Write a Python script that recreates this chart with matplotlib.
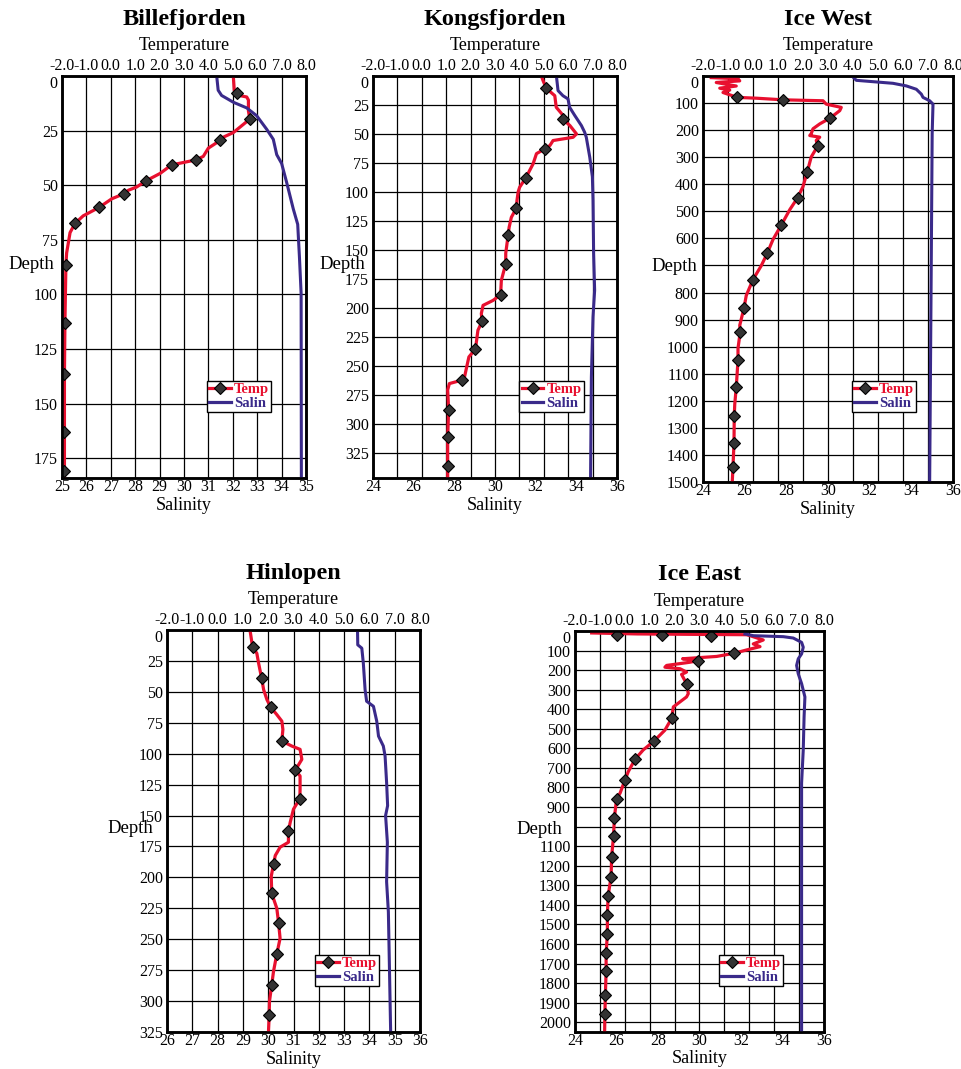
import matplotlib
matplotlib.use("Agg")
import matplotlib.pyplot as plt
from matplotlib.lines import Line2D
import numpy as np

# ----------------------------
# Data
# ----------------------------
temp_ticks = [-2, -1, 0, 1, 2, 3, 4, 5, 6, 7, 8]

# Billefjorden
bf_t_depth = [0, 6.5, 7.6, 9.0, 9.6, 11, 16, 19.7, 25.9, 28, 29.5, 33, 36.8, 38.4, 39.9, 40.7,
              44.6, 48, 50.8, 52.3, 53.9, 56.2, 60.1, 64, 67.5, 71.7, 81, 86.5, 113, 136.5, 163, 184]
bf_temp = [5.02, 5.06, 5.16, 5.30, 5.57, 5.64, 5.64, 5.70, 5.02, 4.61, 4.48, 4.00, 3.79, 3.49, 2.84, 2.49,
           2.02, 1.44, 1.06, 0.72, 0.54, 0.04, -0.47, -1.13, -1.47, -1.67, -1.81, -1.84, -1.88, -1.90, -1.90, -1.90]
bf_m_depth = [7.6, 19.7, 29.5, 38.4, 40.7, 48, 53.9, 60.1, 67.5, 86.5, 113, 136.5, 163, 180.6]
bf_m_temp = [5.16, 5.70, 4.48, 3.49, 2.49, 1.44, 0.54, -0.47, -1.47, -1.84, -1.88, -1.90, -1.90, -1.90]
bf_s_depth = [0, 6.5, 8.9, 12, 14.6, 18.2, 24.4, 29, 36, 40, 48.4, 60.9, 67.9, 82.6, 99.5, 184]
bf_sal = [31.34, 31.40, 31.54, 32.02, 32.57, 32.98, 33.39, 33.66, 33.80, 34.00, 34.20, 34.48, 34.66, 34.73, 34.80, 34.81]

# Kongsfjorden
kf_t_depth = [0, 4, 10.6, 17, 27, 34, 37, 42.8, 50, 52.9, 54.3, 55.7, 60, 63, 67, 75.9, 88, 96, 100, 107.5,
              113.8, 122, 130.5, 137, 153, 162, 176.4, 188.8, 193.7, 198, 205, 211.8, 219.5, 235.6, 242.5,
              259.8, 262.6, 265.5, 271, 288, 312, 347]
kf_temp = [4.90, 4.97, 5.10, 5.45, 5.51, 5.79, 5.77, 6.07, 6.34, 6.20, 5.79, 5.38, 5.25, 5.04, 4.70, 4.56, 4.26,
           4.01, 3.95, 3.90, 3.88, 3.67, 3.58, 3.54, 3.44, 3.44, 3.26, 3.23, 2.92, 2.51, 2.44, 2.47, 2.30, 2.20,
           1.93, 1.75, 1.63, 1.13, 1.06, 1.10, 1.06, 1.06]
kf_m_depth = [10.6, 37, 63, 88, 113.8, 137, 162, 188.8, 211.8, 235.6, 262.6, 288, 312, 337]
kf_m_temp = [5.10, 5.77, 5.04, 4.26, 3.88, 3.54, 3.44, 3.23, 2.47, 2.20, 1.63, 1.10, 1.06, 1.06]
kf_s_depth = [0, 12.6, 17, 19.8, 27, 34, 42.8, 48.6, 52.9, 70, 87, 107, 153, 185, 208, 260, 347]
kf_sal = [33.02, 33.10, 33.34, 33.59, 33.67, 33.92, 34.25, 34.41, 34.49, 34.66, 34.79, 34.82, 34.85, 34.90,
          34.82, 34.74, 34.70]

# Ice West
iw_t_depth = [6, 10, 18, 24, 37, 45, 52, 61, 79, 82, 88, 91.5, 104, 116, 128, 155, 177, 195, 213, 220, 226,
              238, 258.5, 299, 354, 408.5, 449, 494, 551, 604, 655, 701, 752, 811, 857, 921, 945, 1006,
              1050, 1150, 1213, 1257, 1355, 1443, 1500]
iw_temp = [-1.67, -0.60, -0.53, -1.47, -0.67, -1.33, -0.93, -1.20, -0.63, 0.13, 1.20, 2.80, 2.93, 3.53, 3.47,
           3.09, 2.67, 2.40, 2.33, 2.27, 2.67, 2.53, 2.59, 2.33, 2.17, 2.00, 1.79, 1.47, 1.13, 0.80, 0.57,
           0.33, 0.00, -0.27, -0.36, -0.53, -0.51, -0.60, -0.60, -0.67, -0.73, -0.75, -0.76, -0.80, -0.83]
iw_m_depth = [79, 88, 155, 258.5, 354, 449, 551, 655, 752, 857, 945, 1050, 1150, 1257, 1355, 1443]
iw_m_temp = [-0.63, 1.20, 3.09, 2.59, 2.17, 1.79, 1.13, 0.57, 0.00, -0.36, -0.51, -0.60, -0.67, -0.75,
             -0.76, -0.80]
iw_s_depth = [3.7, 16, 21, 27, 36.6, 49, 67, 79, 91.5, 104, 213, 652, 1500]
iw_sal = [31.20, 31.36, 32.16, 33.12, 33.76, 34.24, 34.48, 34.56, 34.88, 35.04, 35.00, 34.96, 34.88]

# Hinlopen
hl_t_depth = [0, 10.7, 14, 18.8, 26.8, 38.9, 48.3, 56.3, 62.5, 68.4, 73.7, 80.4, 89.8, 93.8, 96.5, 104.6,
              113.4, 118, 128.7, 136.5, 144.8, 155.5, 162.7, 171.6, 175.6, 182.3, 189.3, 199.2, 213, 225,
              236.7, 249.3, 262, 276, 286.9, 300.3, 311.5, 325]
hl_temp = [1.28, 1.36, 1.39, 1.55, 1.62, 1.74, 1.82, 1.95, 2.10, 2.34, 2.54, 2.58, 2.54, 2.93, 3.26, 3.33,
           3.07, 3.26, 3.26, 3.25, 3.00, 2.87, 2.80, 2.80, 2.47, 2.28, 2.21, 2.12, 2.14, 2.34, 2.41, 2.47,
           2.34, 2.21, 2.14, 2.05, 2.04, 2.01]
hl_m_depth = [14, 38.9, 62.5, 89.8, 113.4, 136.5, 162.7, 189.3, 213, 236.7, 262, 286.9, 311.5]
hl_m_temp = [1.39, 1.74, 2.10, 2.54, 3.07, 3.26, 2.80, 2.21, 2.14, 2.41, 2.34, 2.14, 2.04]
hl_s_depth = [0, 12, 14.7, 26.8, 48.3, 57.6, 61.7, 73.7, 85.8, 93.8, 101.9, 123.3, 142, 150, 171.6, 203.5,
              227.9, 270.8, 325]
hl_sal = [33.53, 33.54, 33.70, 33.76, 33.83, 33.89, 34.16, 34.29, 34.36, 34.55, 34.62, 34.68, 34.72, 34.64,
          34.71, 34.68, 34.75, 34.79, 34.84]

# Ice East
ie_t_depth = [10, 15, 17, 19, 24, 46, 66, 80, 97, 113.6, 130, 142, 151, 160, 176, 185, 193, 210, 222, 269.5,
              320, 337, 388, 447, 507, 563, 608, 656, 719, 764, 829, 859, 956, 1046, 1154, 1256, 1354,
              1451, 1549, 1646, 1739, 1859, 1959, 2050]
ie_temp = [-1.33, 0.50, 2.50, 4.89, 5.03, 5.56, 5.16, 5.43, 4.89, 4.40, 3.69, 2.32, 2.95, 2.60, 1.68, 1.61,
           2.22, 2.48, 2.28, 2.48, 2.55, 2.48, 1.95, 1.88, 1.61, 1.17, 0.74, 0.41, 0.14, 0.00, -0.19, -0.33,
           -0.42, -0.45, -0.53, -0.55, -0.67, -0.70, -0.70, -0.75, -0.75, -0.78, -0.80, -0.81]
ie_m_depth = [18.6, 20, 23.7, 113.6, 151, 269.5, 447, 563, 656, 764, 859, 956, 1046, 1154, 1256, 1354, 1451,
              1549, 1646, 1739, 1859, 1959]
ie_m_temp = [-0.30, 1.48, 3.46, 4.40, 2.95, 2.48, 1.88, 1.17, 0.41, 0.00, -0.33, -0.42, -0.45, -0.53, -0.55,
             -0.67, -0.70, -0.70, -0.75, -0.75, -0.78, -0.80]
ie_s_depth = [15, 24, 29, 36, 58, 83, 117, 142, 176, 219, 269, 337, 439, 608, 778, 2050]
ie_sal = [32.19, 32.60, 34.04, 34.52, 34.92, 35.00, 34.92, 34.76, 34.68, 34.76, 34.92, 35.08, 35.04, 35.00,
          34.92, 34.92]

# ----------------------------
# Plot styling
# ----------------------------
RED = "#E8102F"
PURPLE = "#3A2A8A"
W, H = 962, 1069

plt.rcParams.update({
    "font.family": "Liberation Serif",
    "font.size": 11.5,
    "xtick.labelsize": 11.5,
    "ytick.labelsize": 11.5,
})

fig = plt.figure(figsize=(W / 100, H / 100), dpi=100)


def px_rect(l, t, r, b):
    return [l / W, (H - b) / H, (r - l) / W, (b - t) / H]


def station(box, title, t_depth, temp, m_depth, m_temp, s_depth, sal, sal_ticks, depth_ticks, depth_max,
            depth_xy, leg_xy, hidden_tick=None):
    ax = fig.add_axes(px_rect(*box))
    axt = ax.twiny()
    ax.set_zorder(axt.get_zorder() + 1)
    ax.patch.set_visible(False)
    axt.patch.set_visible(True)
    axt.patch.set_facecolor("white")

    axt.plot(temp, t_depth, color=RED, lw=2.3, zorder=3)
    axt.plot(m_temp, m_depth, ls="none", marker="D", ms=6.5, mfc="#333333", mec="black", mew=0.8, zorder=4)
    ax.plot(sal, s_depth, color=PURPLE, lw=2.2)

    ax.set_xlim(sal_ticks[0], sal_ticks[-1])
    ax.set_xticks(sal_ticks)
    ax.set_ylim(depth_max, 0)
    ax.set_yticks(depth_ticks)
    # the label hidden behind "Depth" in the original
    ylabels = ax.set_yticklabels(["" if d == hidden_tick else str(d) for d in depth_ticks])
    ylabels[0].set_verticalalignment("top")
    axt.set_xlim(-2, 8)
    axt.set_xticks(temp_ticks)
    axt.set_xticklabels([f"{t:.1f}" for t in temp_ticks])

    ax.tick_params(axis="x", length=0, pad=1)
    ax.tick_params(axis="y", length=0, pad=3)
    axt.tick_params(axis="x", length=0, pad=1.5)
    axt.yaxis.set_visible(True)
    axt.tick_params(axis="y", left=False, right=False, labelleft=False, labelright=False)
    axt.grid(True, color="black", lw=0.9)
    axt.set_axisbelow(True)

    for a in (ax, axt):
        for s in a.spines.values():
            s.set_linewidth(1.8)
            s.set_color("black")

    ax.set_xlabel("Salinity", fontsize=13, va="center")
    ax.xaxis.set_label_coords(0.5, -27 / 402)
    axt.set_xlabel("Temperature", fontsize=13, va="center")
    axt.xaxis.set_label_coords(0.5, 1 + 30 / 402)
    ax.set_ylabel("Depth", fontsize=13.5, rotation=0, ha="right", va="center")
    ax.yaxis.set_label_coords(*depth_xy)
    ax.annotate(title, xy=(0.5, 1), xycoords="axes fraction", xytext=(0, 41),
                textcoords="offset points", ha="center", va="center",
                fontsize=17.5, fontweight="bold")

    handles = [
        Line2D([], [], color=RED, lw=2.3, marker="D", ms=6.5, mfc="#333333", mec="black", mew=0.8),
        Line2D([], [], color=PURPLE, lw=2.3),
    ]
    leg = ax.legend(handles, ["Temp", "Salin"], loc="lower left", bbox_to_anchor=leg_xy,
                    frameon=True, fancybox=False, edgecolor="black", framealpha=1,
                    prop=dict(family="Liberation Serif", weight="bold", size=10.5),
                    handlelength=1.5, handletextpad=0.2, borderpad=0.15, labelspacing=0.05,
                    borderaxespad=0)
    leg.get_frame().set_linewidth(1.0)
    for txt, c in zip(leg.get_texts(), [RED, PURPLE]):
        txt.set_color(c)


station((62, 76, 306, 478), "Billefjorden", bf_t_depth, bf_temp, bf_m_depth, bf_m_temp, bf_s_depth, bf_sal,
        list(range(25, 36)), list(range(0, 176, 25)), 184, (-0.03, 0.53), (0.594, 0.164))
station((373, 76, 617, 478), "Kongsfjorden", kf_t_depth, kf_temp, kf_m_depth, kf_m_temp, kf_s_depth, kf_sal,
        list(range(24, 37, 2)), list(range(0, 326, 25)), 347, (-0.033, 0.53), (0.60, 0.164))
station((703, 76, 953, 482), "Ice West", iw_t_depth, iw_temp, iw_m_depth, iw_m_temp, iw_s_depth, iw_sal,
        list(range(24, 37, 2)), list(range(0, 1501, 100)), 1500, (-0.024, 0.53), (0.596, 0.172),
        hidden_tick=700)
station((167, 630, 420, 1032), "Hinlopen", hl_t_depth, hl_temp, hl_m_depth, hl_m_temp, hl_s_depth, hl_sal,
        list(range(26, 37)), list(range(0, 326, 25)), 325, (-0.055, 0.505), (0.585, 0.114))
station((575, 631, 824, 1032), "Ice East", ie_t_depth, ie_temp, ie_m_depth, ie_m_temp, ie_s_depth, ie_sal,
        list(range(24, 37, 2)), list(range(0, 2001, 100)), 2050, (-0.052, 0.505), (0.578, 0.114),
        hidden_tick=1000)

fig.savefig("out.png", dpi=100, facecolor="white")
